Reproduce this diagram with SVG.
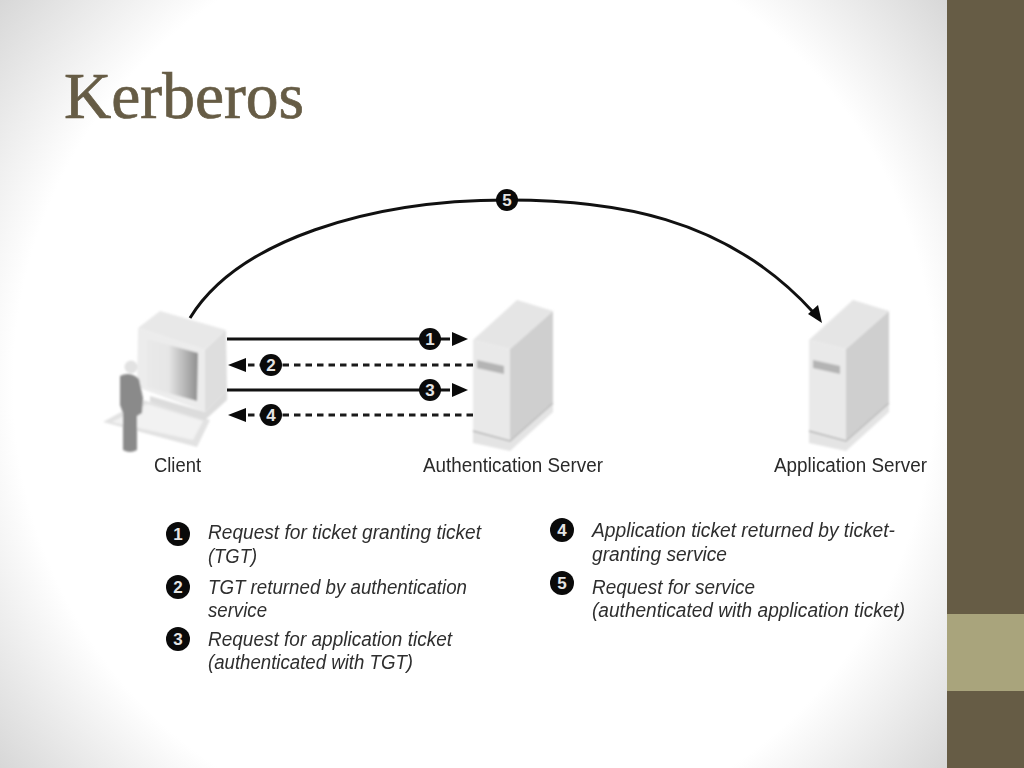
<svg xmlns="http://www.w3.org/2000/svg" xmlns:xlink="http://www.w3.org/1999/xlink" width="1024" height="768" viewBox="0 0 1024 768">
<style>
.lbl{font-family:"Liberation Sans",Arial,sans-serif;font-size:20px;fill:#2a2a2a;filter:url(#t);}
.leg{font-family:"Liberation Sans",Arial,sans-serif;font-size:20px;font-style:italic;fill:#2e2e2e;filter:url(#t);}
.num{font-family:"Liberation Sans",Arial,sans-serif;font-weight:bold;font-size:17px;fill:#e4e4e4;text-anchor:middle;}
.solid{fill:none;stroke:#111;stroke-width:3;}
.dash{fill:none;stroke:#1a1a1a;stroke-width:3;stroke-dasharray:6.5 5;}
.dot{fill:#0a0a0a;}
.head{fill:#0a0a0a;}
.soft{filter:url(#b);}
</style>
<defs>
<radialGradient id="bg" gradientUnits="userSpaceOnUse" cx="474" cy="384" r="640">
<stop offset="0.72" stop-color="#fff"/>
<stop offset="1" stop-color="#cfcfcf"/>
</radialGradient>
<linearGradient id="scr" x1="0" x2="1" y1="0" y2="0">
<stop offset="0" stop-color="#e9e9e9"/><stop offset="0.42" stop-color="#e6e6e6"/><stop offset="1" stop-color="#8f8f8f"/>
</linearGradient>
<filter id="b" x="-5%" y="-5%" width="110%" height="110%"><feGaussianBlur stdDeviation="0.8"/></filter>
<filter id="t" x="-5%" y="-20%" width="110%" height="140%"><feGaussianBlur stdDeviation="0.45"/></filter>
<g id="srv">
<polygon points="473,430 510,440 553,402 553,412 510,451 473,443" fill="#e4e4e4"/>
<polygon points="473,340 510,349 510,440 473,430" fill="#e9e9e9"/>
<polygon points="510,349 553,311 553,402 510,440" fill="#cfcfcf"/>
<polygon points="473,340 517,300 553,311 510,349" fill="#e5e5e5"/>
<polyline points="473,431 510,441 553,403" fill="none" stroke="#b5b5b5" stroke-width="1.5"/>
<polygon points="477,360 504,366 504,374 477,368" fill="#b4b4b4"/>
</g>
</defs>
<rect id="background" width="947" height="768" fill="url(#bg)"/>
<rect id="sidebar" x="947" y="0" width="77" height="768" fill="#665c45"/>
<rect id="band" x="947" y="614" width="77" height="77" fill="#a9a47c"/>
<text id="title" x="64" y="118" font-family="'Liberation Serif','Times New Roman',serif" font-size="65" fill="#665c45" stroke="#665c45" stroke-width="0.7" textLength="240" lengthAdjust="spacingAndGlyphs">Kerberos</text>

<g id="client" class="soft">
<polygon points="103,422 143,400 210,420 197,447" fill="#e2e2e2"/>
<polygon points="112,422 147,404 203,421 193,440" fill="#f2f2f2"/>
<polygon points="205,412 227,390 227,400 205,420 150,402 150,396" fill="#dcdcdc"/>
<polygon points="138,328 205,350 205,412 137,387" fill="#ececec"/>
<polygon points="205,350 226,330 227,390 205,412" fill="#dedede"/>
<polygon points="138,328 160,311 226,330 205,350" fill="#e8e8e8"/>
<polygon points="147,339 198,353 197,401 147,387" fill="url(#scr)"/>
<circle cx="131" cy="367" r="6.5" fill="#e2e2e2"/>
<path d="M120,376 Q130,371 139,379 L143,398 L142,413 L137,416 L137,450 Q130,454 123,450 L123,413 L120,405 Z" fill="#8a8a8a"/>
</g>
<use id="authServerShape" xlink:href="#srv" class="soft"/>
<use id="appServerShape" xlink:href="#srv" x="336" y="0" class="soft"/>

<g id="connectors">
<path class="solid" d="M190,318 C238,240 370,200 507,200 C610,200 725,215 813,312"/>
<polygon class="head" points="822,323 808,314 818,305"/>
<path class="solid" d="M227,339 H450"/>
<polygon class="head" points="468,339 452,332 452,346"/>
<path class="dash" d="M473,365 H248"/>
<polygon class="head" points="228,365 246,358 246,372"/>
<path class="solid" d="M227,390 H450"/>
<polygon class="head" points="468,390 452,383 452,397"/>
<path class="dash" d="M473,415 H248"/>
<polygon class="head" points="228,415 246,408 246,422"/>
</g>

<g id="step1"><circle class="dot" cx="430" cy="339" r="11"/><text class="num" x="430" y="345">1</text></g>
<g id="step2"><circle class="dot" cx="271" cy="365" r="11"/><text class="num" x="271" y="371">2</text></g>
<g id="step3"><circle class="dot" cx="430" cy="390" r="11"/><text class="num" x="430" y="396">3</text></g>
<g id="step4"><circle class="dot" cx="271" cy="415" r="11"/><text class="num" x="271" y="421">4</text></g>
<g id="step5"><circle class="dot" cx="507" cy="200" r="11"/><text class="num" x="507" y="206">5</text></g>

<text id="clientLabel" class="lbl" x="154" y="472" textLength="47" lengthAdjust="spacingAndGlyphs">Client</text>
<text id="authLabel" class="lbl" x="423" y="472" textLength="180" lengthAdjust="spacingAndGlyphs">Authentication Server</text>
<text id="appLabel" class="lbl" x="774" y="472" textLength="153" lengthAdjust="spacingAndGlyphs">Application Server</text>

<g id="legend1"><circle class="dot" cx="178" cy="534" r="12"/><text class="num" x="178" y="540">1</text>
<text class="leg" x="208" y="539" textLength="273" lengthAdjust="spacingAndGlyphs">Request for ticket granting ticket</text>
<text class="leg" x="208" y="563" textLength="49" lengthAdjust="spacingAndGlyphs">(TGT)</text></g>
<g id="legend2"><circle class="dot" cx="178" cy="587" r="12"/><text class="num" x="178" y="593">2</text>
<text class="leg" x="208" y="594" textLength="259" lengthAdjust="spacingAndGlyphs">TGT returned by authentication</text>
<text class="leg" x="208" y="617" textLength="59" lengthAdjust="spacingAndGlyphs">service</text></g>
<g id="legend3"><circle class="dot" cx="178" cy="639" r="12"/><text class="num" x="178" y="645">3</text>
<text class="leg" x="208" y="646" textLength="244" lengthAdjust="spacingAndGlyphs">Request for application ticket</text>
<text class="leg" x="208" y="669" textLength="205" lengthAdjust="spacingAndGlyphs">(authenticated with TGT)</text></g>
<g id="legend4"><circle class="dot" cx="562" cy="530" r="12"/><text class="num" x="562" y="536">4</text>
<text class="leg" x="592" y="537" textLength="303" lengthAdjust="spacingAndGlyphs">Application ticket returned by ticket-</text>
<text class="leg" x="592" y="561" textLength="135" lengthAdjust="spacingAndGlyphs">granting service</text></g>
<g id="legend5"><circle class="dot" cx="562" cy="583" r="12"/><text class="num" x="562" y="589">5</text>
<text class="leg" x="592" y="594" textLength="163" lengthAdjust="spacingAndGlyphs">Request for service</text>
<text class="leg" x="592" y="617" textLength="313" lengthAdjust="spacingAndGlyphs">(authenticated with application ticket)</text></g>
</svg>
